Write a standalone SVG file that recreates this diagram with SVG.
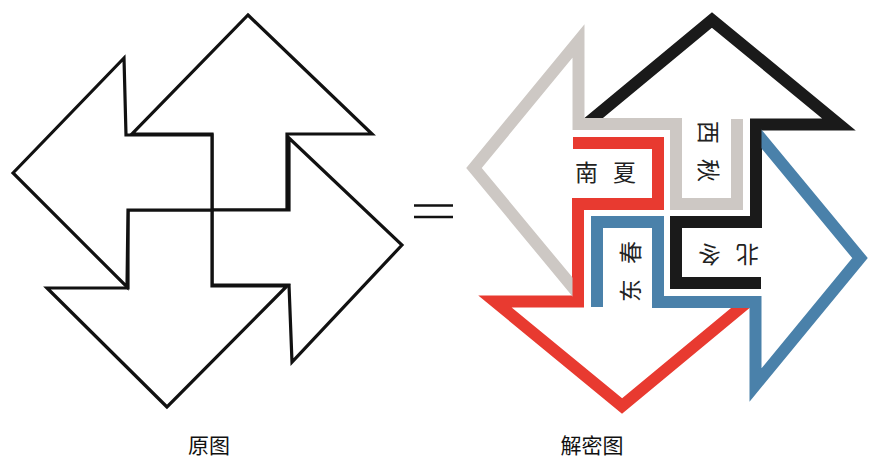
<svg xmlns="http://www.w3.org/2000/svg" width="880" height="464" viewBox="0 0 880 464">
<style>
.o{fill:#fff;stroke:#111;stroke-width:3.2;stroke-linejoin:miter}
.b{fill:none;stroke-width:12;stroke-linejoin:miter;stroke-miterlimit:6}
.t{font-family:"Noto Sans CJK SC","Noto Sans CJK JP",sans-serif;font-size:23px;fill:#222;letter-spacing:15px}
.cap{font-family:"Noto Sans CJK SC","Noto Sans CJK JP",sans-serif;font-size:21px;fill:#111;text-anchor:middle}
.eq{stroke:#111;stroke-width:2.6}
</style>
<defs>
<clipPath id="cut" clipPathUnits="userSpaceOnUse">
<rect x="-200" y="-200" width="880" height="900"/>
<rect x="-200" y="307.5" width="1400" height="600"/>
</clipPath>
</defs>
<g id="original">
<g id="arrow-up"><polygon class="o" points="248,15 372,134 287,134 287,210 212,210 212,134 132,134"/></g>
<g id="arrow-right"><polygon class="o" points="402,245 292,362 289,285 212,285 212,210 289,210 289,138"/></g>
<g id="arrow-down"><polygon class="o" points="167,407 47,288 128,288 128,210 212,210 212,286 287,286"/></g>
<g id="arrow-left"><polygon class="o" points="13,173 124,58 126,135 212,135 212,210 128,210 127,287"/></g>
</g>
<g id="equals">
<line class="eq" x1="414" y1="205.5" x2="453" y2="205.5"/>
<line class="eq" x1="414" y1="217" x2="453" y2="217"/>
</g>
<g id="decoded">
<g id="nan-xia">
<path class="b" stroke="#e83a30" clip-path="url(#cut)" d="M756,295 L622,406 L495,301.5 L578,301.5 L578,204 L658,204 L658,143 L573,143"/>
<text class="t" x="575" y="180.5">南夏</text>
</g>
<g id="bei-dong" transform="rotate(180 667 213)">
<path class="b" stroke="#1a1a1a" clip-path="url(#cut)" d="M756,295 L622,406 L495,301.5 L578,301.5 L578,204 L658,204 L658,143 L573,143"/>
<text class="t" x="575" y="180.5">北冬</text>
</g>
<g id="dong-chun" transform="rotate(270 667 213)">
<path class="b" stroke="#4a81aa" clip-path="url(#cut)" d="M756,295 L622,406 L495,301.5 L578,301.5 L578,204 L658,204 L658,143 L573,143"/>
<text class="t" x="578" y="184.5">东春</text>
</g>
<g id="xi-qiu" transform="rotate(90 667 213)">
<path class="b" stroke="#cdc8c4" clip-path="url(#cut)" d="M756,295 L622,406 L495,301.5 L578,301.5 L578,204 L658,204 L658,143 L573,143"/>
<text class="t" x="575" y="180.5">西秋</text>
</g>
</g>
<g id="captions">
<text class="cap" x="209" y="453">原图</text>
<text class="cap" x="592" y="453">解密图</text>
</g>
</svg>
